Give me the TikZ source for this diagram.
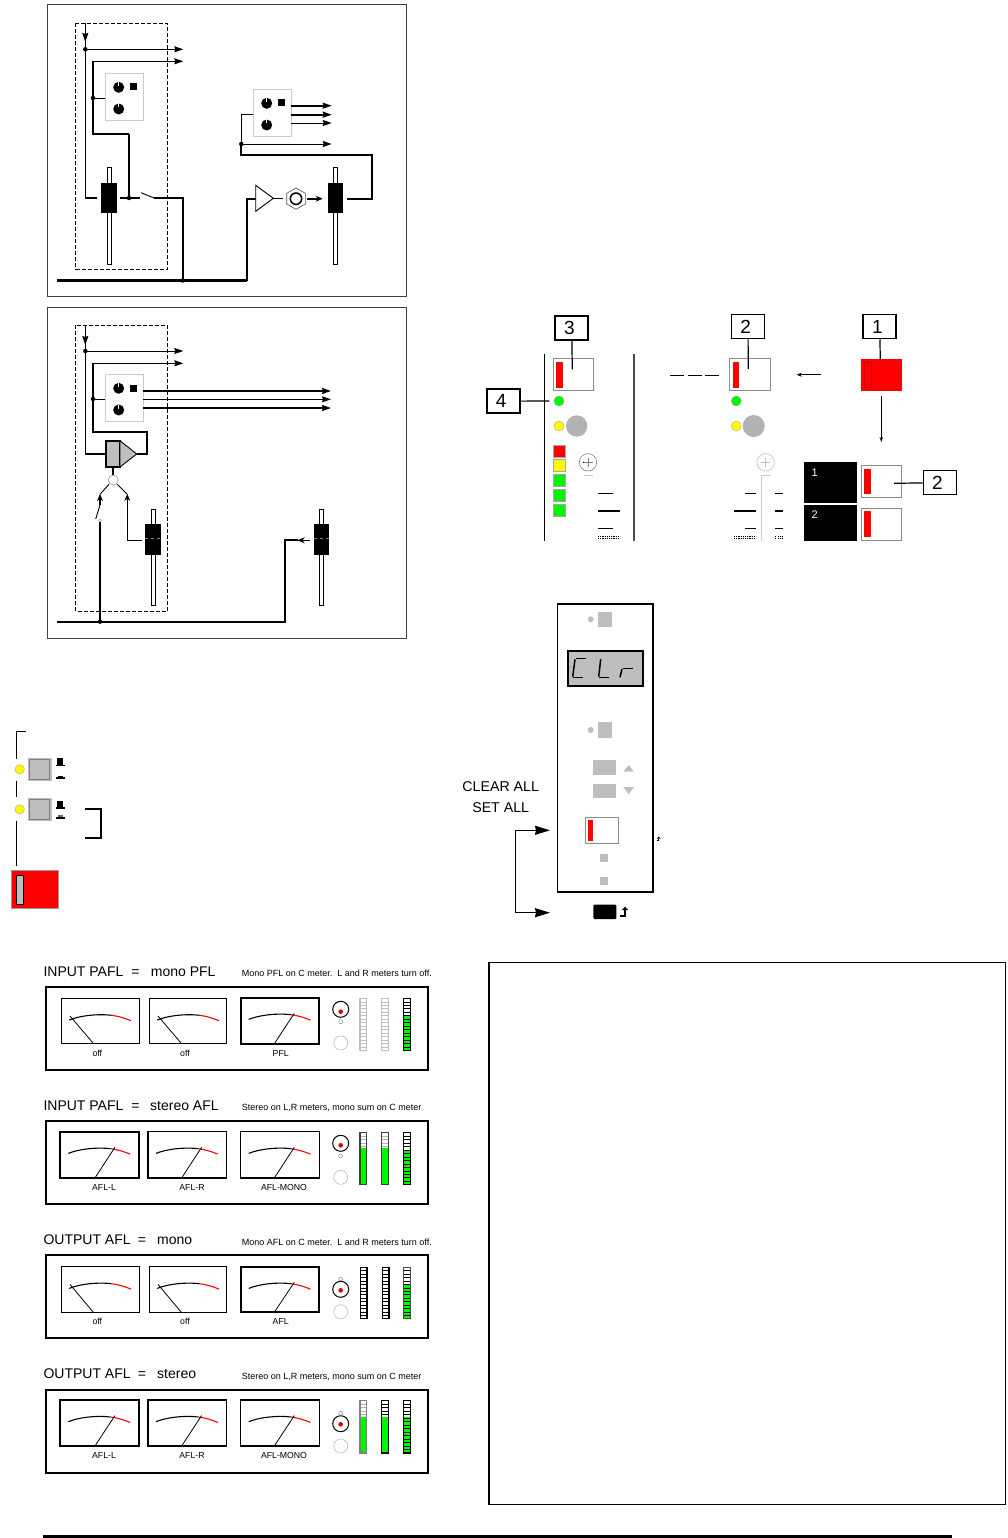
\documentclass[tikz,border=0pt]{standalone}
\usepackage{fontspec}
\setmainfont{Liberation Sans}
\usetikzlibrary{positioning}
\usetikzlibrary{calc}
\usetikzlibrary{arrows.meta}
\definecolor{ledred}{RGB}{255,0,0}
\definecolor{ledgreen}{RGB}{0,245,0}
\definecolor{ledyellow}{RGB}{255,250,0}
\definecolor{panelgray}{RGB}{190,190,190}
\tikzset{
    wire/.style={line width=0.9pt},
    hotwire/.style={line width=1.7pt},
    tip/.style={-{Stealth[length=9pt,width=6pt,inset=1pt]}},
    dot/.style={circle, fill=black, inner sep=0pt, minimum size=4.5pt},
    dashbox/.style={line width=0.8pt, dash pattern=on 4pt off 2pt},
    frame/.style={draw=black!75, line width=1pt},
    callout/.style={draw=black, line width=1.5pt, fill=white, font=\fontsize{19}{19}\selectfont, minimum width=33pt, minimum height=24pt, inner sep=0pt},
    capbtn/.style={draw=black!45, line width=0.8pt, fill=white},
    title/.style={anchor=base west, inner sep=0pt, font=\fontsize{14}{14}\selectfont},
    remark/.style={anchor=base west, inner sep=0pt, font=\fontsize{9}{9}\selectfont},
    scalelabel/.style={inner sep=0pt, font=\fontsize{8.7}{9}\selectfont},
}
% a pot panel at (#1,#2): two knobs and a square
\newcommand{\potpanel}[3]{
    \draw[draw=black!20, line width=0.8pt, fill=white] (#1,#2) rectangle ++(38,#3);
    \fill (#1+13.4,#2+14) circle (5.5);
    \fill (#1+13.4,#2+35.7) circle (5.5);
    \draw[white, line width=0.6pt] (#1+13.4,#2+8.5) -- ++(0,4);
    \draw[white, line width=0.6pt] (#1+13.4,#2+30.2) -- ++(0,4);
    \fill (#1+24.2,#2+10.2) rectangle ++(7,7);
}
% a fader, centre x, cap top, track top, track bottom
\newcommand{\fader}[4]{
    \draw[black, line width=0.7pt] (#1-2,#3) rectangle (#1+2,#4);
    \fill[black] (#1-7.7,#2) rectangle ++(15.4,30.7);
}
% one VU meter: x0, y0, x1, y1, line width, needle tip x, tip y, base x
\newcommand{\vumeter}[8]{
    \draw[line width=#5, fill=white] (#1,#2) rectangle (#3,#4);
    \draw[line width=1.1pt] (#1+8,#2+21.7) .. controls (#1+18,#2+17.5) and (#1+36,#2+15.2) .. (#1+50.4,#2+17);
    \draw[ledred, line width=1.1pt] (#1+50.4,#2+17) .. controls (#1+57,#2+17.8) and (#1+64,#2+20) .. (#1+69.7,#2+22.4);
    \draw[line width=0.8pt] (#1+#8,#4) -- (#1+#6,#2+#7);
}
% meter column: x, top, bottom, where the green starts, grid colour, solid yes/no, border colour
\newcommand{\ledbar}[7]{
    \fill[ledgreen] (#1,#4) rectangle (#1+6.8,#3);
    \foreach \nn in {1,...,14}
        \draw[#5, line width=0.6pt] (#1,{#2+\nn*(#3-#2)/15}) -- ++(6.8,0);
    \ifnum#6=1 \fill[ledgreen] (#1,#4) rectangle (#1+6.8,#3); \fi
    \draw[#7, line width=1.3pt] (#1,#2) rectangle (#1+6.8,#3);
}
% selector: the ring, its red dot, the small ring, the lower ring
\newcommand{\selector}[4]{
    \draw[line width=1pt, fill=white] (340.7,#1) circle (8);
    \fill[ledred!85!black] (340.7,#2) circle (2.3);
    \draw[black!45, line width=0.5pt] (340.7,#3) circle (2);
    \draw[black!30, line width=0.5pt] (340.7,#4) circle (7);
}
\begin{document}
\begin{tikzpicture}[x=1pt, y=-1pt, line cap=butt]
    \useasboundingbox (0,0) rectangle (1008,1538);
    % upper routing block
    \draw[frame] (47.5,5) rectangle (406,296);
    \draw[dashbox] (75.7,23.3) rectangle (167.3,269.3);
    \potpanel{105.3}{73.3}{47.4}
    \potpanel{253.3}{89.3}{47}
    \fader{109}{182.7}{167.3}{264}
    \fader{335.3}{182.7}{167.3}{264}
    \coordinate (jnA) at (85.3,49.3);
    \coordinate (jnB) at (93,98);
    \coordinate (jnC) at (129,198);
    \coordinate (jnD) at (182.7,280.5);
    \coordinate (swA) at (141,192.7);
    \coordinate (swB) at (154,198);
    \draw[line width=1.2pt] (85.3,23.3) -- (85.3,198);
    \draw[hotwire] (85.3,198) -- (97,198);
    \draw[tip, line width=0.9pt] (85.3,32) -- (85.3,42);
    \draw[wire, tip] (jnA) -- (183.3,49.3);
    \draw[wire, tip] (93,61.3) -- (183.3,61.3);
    \draw[hotwire] (93,61.3) -- (93,133.7) -- (129,133.7);
    \draw[line width=1.3pt] (129,133.7) -- (jnC);
    \draw[wire] (jnB) -- (105.3,98);
    \draw[hotwire] (120,198) -- (140,198);
    \draw[wire] (swA) -- (swB);
    \draw[hotwire] (swB) -- (182.7,198) -- (jnD);
    \draw[line width=2.4pt] (57.3,280.5) -- (247.3,280.5);
    \draw[hotwire] (247.3,281) -- (247.3,199) -- (256,199);
    \node[dot] at (jnA) {};
    \node[dot] at (jnB) {};
    \node[dot] at (jnC) {};
    \node[dot] at (jnD) {};
    \draw[line width=0.9pt, fill=white] (255.7,185.3) -- (255.7,211.3) -- (273.3,198.3) -- cycle;
    \draw[hotwire] (273.3,198.5) -- (283.3,198.5);
    \draw[black!70, line width=0.6pt] (296,188) -- (305.3,193.3) -- (305.3,204) -- (296,209.4) -- (286.7,204) -- (286.7,193.3) -- cycle;
    \draw[line width=1.5pt, fill=white] (296,198.7) circle (5.7);
    \draw[hotwire, -{Stealth[length=7pt,width=6pt]}] (307.3,198.7) -- (322.7,198.7);
    \draw[hotwire] (347.3,198.7) -- (372.3,198.7) -- (372.3,154.7) -- (241.3,154.7) -- (241.3,144);
    \draw[wire] (241.3,144) -- (241.3,114.3) -- (253.3,114.3);
    \draw[wire, tip] (241.3,144) -- (331.7,144);
    \node[dot] at (241.3,144) {};
    \draw[hotwire, tip] (291.3,105.7) -- (331.7,105.7);
    \draw[hotwire, tip] (291.3,114.7) -- (331.7,114.7);
    \draw[wire, tip] (291.3,123) -- (331.7,123);

    % lower routing block
    \draw[frame] (47.5,307.7) rectangle (406,638.3);
    \draw[dashbox] (75.7,325.3) rectangle (167.3,611.3);
    \potpanel{105.3}{374.3}{47.4}
    \fader{153}{524}{509}{605.3}
    \fader{321.7}{524}{509}{605.3}
    \draw[black!50, dashed, line width=0.4pt] (145.3,538.3) -- (160.7,538.3);
    \draw[black!50, dashed, line width=0.4pt] (314,538.3) -- (329.4,538.3);
    \coordinate (jnE) at (85.3,351);
    \coordinate (jnF) at (93,399);
    \coordinate (jnG) at (100,621.7);
    \draw[line width=1.2pt] (85.3,325.3) -- (85.3,454);
    \draw[hotwire] (85.3,454) -- (105.7,454);
    \draw[tip, line width=0.9pt] (85.3,335) -- (85.3,345);
    \draw[wire, tip] (jnE) -- (183.3,351);
    \draw[wire, tip] (93,363.3) -- (183.3,363.3);
    \draw[hotwire] (93,363.3) -- (93,432) -- (147,432) -- (147,454) -- (136.7,454);
    \draw[wire] (jnF) -- (105.3,399);
    \node[dot] at (jnE) {};
    \node[dot] at (jnF) {};
    \draw[hotwire, tip] (143.3,391) -- (331,391);
    \draw[wire, tip] (143.3,399.3) -- (331,399.3);
    \draw[hotwire, tip] (143.3,408) -- (331,408);
    \draw[line width=1.8pt, fill=panelgray] (105.7,440.7) rectangle (120,467);
    \draw[line width=0.9pt, fill=panelgray] (120,440.7) -- (120,467) -- (136.7,454) -- cycle;
    \node[circle, draw=black!45, line width=0.5pt, fill=white, minimum size=10pt, inner sep=0pt] (sumnode) at (113.3,480) {};
    \draw[hotwire] (113.3,467) -- (sumnode);
    \draw[wire] (109,484.3) -- (100,494.3);
    \draw[wire] (117.3,484.3) -- (127.3,494.3);
    \draw[hotwire, -{Stealth[length=7pt,width=6pt]}] (100,505) -- (100,494);
    \draw[wire] (100,505) -- (95.7,519);
    \node[circle, draw=black!45, line width=0.4pt, fill=white, minimum size=3pt, inner sep=0pt] (swC) at (100,520.7) {};
    \draw[wire, -{Stealth[length=7pt,width=6pt]}] (141.7,540.3) -- (127.3,540.3) -- (127.3,494);
    \draw[hotwire] (swC) -- (jnG);
    \draw[hotwire] (57.3,621.7) -- (285,621.7) -- (285,540.3) -- (298,540.3);
    \draw[wire] (298,540.3) -- (310,540.3);
    \draw[-{Stealth[length=7pt,width=6pt]}, line width=0.9pt] (310,540.3) -- (297.7,540.3);
    \node[dot] at (jnG) {};

    % console strips and callouts
    \draw[line width=1.5pt] (544.7,354) -- (544.7,540.7);
    \draw[black!70, line width=1.2pt] (634,354) -- (634,540.7);
    \draw[capbtn] (553,358.7) rectangle (593.7,390.7);
    \fill[ledred] (556.3,362) rectangle (562.7,387.7);
    \node[callout] (numC) at (571.7,328) {\kern-4.6pt 3};
    \node[callout] (numD) at (503.5,401.2) {\kern-4.6pt 4};
    \node[callout] (numB) at (748,326.5) {\kern-4.6pt 2};
    \node[callout] (numA) at (879.7,326.5) {\kern-4.6pt 1};
    \node[callout] (numE) at (939.8,482.7) {\kern-4.6pt 2};
    \coordinate (endC) at (572.3,369.3);
    \coordinate (endD) at (549.3,401);
    \coordinate (endB) at (748.3,369);
    \coordinate (endA) at (880.3,360);
    \coordinate (endE) at (894,483.3);
    \fill[ledgreen, draw=black!40, line width=0.3pt] (559,401) circle (5);
    \fill[ledyellow, draw=black!40, line width=0.3pt] (559,426) circle (5);
    \fill[black!30] (576.7,426) circle (10.7);
    \draw[capbtn] (729.7,358.7) rectangle (770.3,390.7);
    \fill[ledred] (733,362) rectangle (739,387.7);
    \fill[ledgreen, draw=black!40, line width=0.3pt] (736.3,401) circle (5);
    \fill[ledyellow, draw=black!40, line width=0.3pt] (736.3,426) circle (5);
    \fill[black!30] (753.7,426) circle (11);
    \draw[line width=1.2pt] (numC) -- (endC);
    \draw[line width=1.2pt] (numD) -- (endD);
    \draw[line width=1.2pt] (numB) -- (endB);
    \fill[ledred] (861,358.7) rectangle (901.7,390.7);
    \draw[ledred!80!black, line width=0.5pt] (864.3,362) rectangle (871,387.7);
    \draw[line width=1.2pt] (numA) -- (endA);
    \draw[line width=1.2pt, dash pattern=on 14pt off 3.5pt] (670,375.3) -- (719,375.3);
    \draw[line width=1.5pt, -{Stealth[length=5pt,width=4pt]}] (821,374.7) -- (796.7,374.7);
    \draw[line width=0.8pt, -{Stealth[length=5pt,width=3.5pt]}] (881.3,396) -- (881.3,442);
    % meter lamps
    \foreach \ya/\lampcol in {445/ledred, 459.3/ledyellow, 474/ledgreen, 489/ledgreen, 504/ledgreen}
        \draw[black!35, line width=0.6pt, fill=\lampcol] (553,\ya) rectangle ++(12,12);
    % screws and scale marks
    \foreach \xa/\screwcol in {588/black!50, 765.7/black!25} {
        \draw[\screwcol, line width=0.6pt, fill=white] (\xa,462.3) circle (8.7);
        \draw[\screwcol, line width=0.6pt] (\xa-4.5,462.3) -- (\xa+4.5,462.3);
        \draw[\screwcol, line width=0.6pt] (\xa,457.8) -- (\xa,466.8);
    }
    \fill (583.5,462.3) circle (0.7);
    \draw[black!20, line width=0.6pt] (584,475.3) -- (592.7,475.3);
    \draw[black!20, line width=0.6pt] (770,475.3) -- (761,475.3) -- (761,540.7);
    \foreach \ya/\xa/\xb in {493.7/598/612.7, 511/598/620, 528.7/598/612.7, 493.7/745/756, 511/734/756, 528.7/745/756, 493.7/775.3/783.3, 511/775.3/783.3, 528.7/775.3/783.3}
        \draw[line width=1.5pt] (\xa,\ya) -- (\xb,\ya);
    \foreach \xa/\xb in {598/620, 734/756, 775.3/783.3}
        \foreach \ya in {536, 538.7}
            \draw[line width=0.8pt, dash pattern=on 1.1pt off 1.1pt] (\xa,\ya) -- (\xb,\ya);
    % channel buttons
    \fill (804,462.3) rectangle (857,502.7);
    \fill (804,505) rectangle (857,540.7);
    \node[inner sep=0pt, text=white, font=\fontsize{11}{11}\selectfont] (chA) at (814.7,472.3) {1};
    \node[inner sep=0pt, text=white, font=\fontsize{11}{11}\selectfont] (chB) at (814.7,515) {2};
    \draw[capbtn] (861,465.3) rectangle (901.7,497.7);
    \draw[capbtn] (861,508) rectangle (901.7,540);
    \fill[ledred] (864.3,469) rectangle (870.7,494.3);
    \fill[ledred] (864.3,511.3) rectangle (870.7,537);
    \draw[line width=1.2pt] (numE) -- (endE);

    % solo keys at left
    \draw[line width=1.3pt] (25.7,731.7) -- (16.3,731.7) -- (16.3,758.7);
    \draw[line width=1.3pt] (16.3,780.7) -- (16.3,796.7);
    \draw[line width=1.3pt] (16.3,821) -- (16.3,865.7);
    \foreach \ya/\yb in {758/769.3, 798.3/809.3} {
        \draw[fill=ledyellow, draw=black!40, line width=0.3pt] (19.7,\yb) circle (4.7);
        \draw[black!25, line width=0.8pt, fill=panelgray] (28.3,\ya) rectangle ++(22.7,22.3);
        \draw[black!50, line width=0.5pt] (29.7,\ya+1.4) rectangle ++(20,19.5);
    }
    \foreach \ya in {758.3, 800.7} {
        \fill (57.3,\ya) rectangle ++(5.4,6.5);
        \fill (56,\ya+6.5) rectangle ++(9,1.5);
    }
    \fill (57.5,776) rectangle ++(5,1.3);
    \fill (56,777.3) rectangle ++(9,1.4);
    \fill[black!60] (57.5,815) rectangle ++(5,2.2);
    \fill (56,817.2) rectangle ++(9,1.5);
    \draw[line width=1.8pt] (85,809.3) -- (101,809.3) -- (101,838) -- (85,838);
    \draw[fill=ledred, draw=black!40, line width=0.5pt] (11.3,870.3) rectangle (58.7,908);
    \draw[black, line width=0.9pt, fill=panelgray] (16.3,875.3) rectangle (23.7,904.3);

    % display panel
    \draw[line width=1.5pt] (557.7,604) rectangle (653,892);
    \fill[panelgray] (590.7,619.3) circle (3);
    \fill[panelgray] (597.7,611.7) rectangle (612.3,627.3);
    \draw[line width=1.8pt, fill=panelgray] (567.7,650.7) rectangle (643.3,686);
    \draw[line width=1.5pt] (586,658.3) -- (576,658.3);
    \draw[line width=1.5pt] (575,659.3) -- (572.7,676.7);
    \draw[line width=1.5pt] (573.3,677.7) -- (583.3,677.7);
    \draw[line width=1.5pt] (600.7,659) -- (598.7,676.7);
    \draw[line width=1.5pt] (599.3,677.7) -- (609.3,677.7);
    \draw[line width=1.5pt] (622,669) -- (620,677.3);
    \draw[line width=1.5pt] (622.7,668.3) -- (633.3,668.3);
    \fill[panelgray] (590.7,730) circle (3);
    \fill[panelgray] (597.7,722.3) rectangle (612.3,737.7);
    \fill[panelgray] (593.3,760) rectangle (616.3,775);
    \fill[panelgray] (593.3,784) rectangle (616.3,798.3);
    \fill[panelgray] (623.3,771.7) -- (634,771.7) -- (628.7,765) -- cycle;
    \fill[panelgray] (623.3,787) -- (634,787) -- (628.7,794.3) -- cycle;
    \draw[capbtn] (585,817) rectangle (618.7,843.3);
    \fill[ledred] (588.3,820) rectangle (593,841);
    \fill[panelgray] (600.3,853.7) rectangle ++(8,8);
    \fill[panelgray] (600.3,877) rectangle ++(8,8);
    \draw[line width=0.6pt] (656.7,840.7) -- (658.7,840.7) -- (658.7,838.5);
    \fill (656.7,838.7) -- (660.7,838.7) -- (658.7,836.5) -- cycle;
    \fill[rounded corners=1pt] (593.3,904.7) rectangle (616.3,919);
    \draw[line width=1.2pt] (620,916) -- (625,916) -- (625,910);
    \fill (621.7,910.2) -- (628.3,910.2) -- (625,906.7) -- cycle;
    \node[inner sep=0pt, font=\fontsize{14.2}{15}\selectfont] (clrall) at (500.7,787) {CLEAR ALL};
    \node[inner sep=0pt, font=\fontsize{14.2}{15}\selectfont] (setall) at (500.7,808) {SET ALL};
    \coordinate (toclr) at (550,830.3);
    \coordinate (toset) at (550,912.7);
    \draw[line width=1.5pt, -{Stealth[length=15pt,width=9pt,inset=1pt]}] (515.7,830.3) -- (toclr);
    \draw[line width=1.5pt, -{Stealth[length=15pt,width=9pt,inset=1pt]}] (515.7,830.3) -- (515.7,912.7) -- (toset);

    % INPUT PAFL, mono PFL
    \node[title] (hdA) at (43.3,976) {INPUT PAFL};
    \node[title] (eqA) at (131.2,976) {=};
    \node[title] (vaA) at (150.7,976) {mono PFL};
    \node[remark] (rmA) at (241.7,976.7) {Mono PFL on C meter.\ \ L and R meters turn off.};
    \draw[line width=1.7pt] (45.7,987.3) rectangle (428.3,1070);
    \vumeter{61.3}{998.3}{139.3}{1043.3}{1pt}{8.7}{17.7}{32}
    \vumeter{149.3}{998.3}{226.7}{1043.3}{1pt}{8.7}{17.7}{32}
    \vumeter{240.7}{997.7}{319.3}{1043.7}{1.8pt}{53.6}{15.6}{33.6}
    \node[scalelabel] (lbA) at (97.3,1053.7) {off};
    \node[scalelabel] (lbB) at (185,1053.7) {off};
    \node[scalelabel] (lbC) at (280.7,1053.7) {PFL};
    \selector{1009.3}{1011.7}{1021.7}{1043}
    \ledbar{360}{998.3}{1050.7}{1050.7}{black!25}{0}{black!25}
    \ledbar{381.7}{998.3}{1050.7}{1050.7}{black!25}{0}{black!25}
    \ledbar{403.8}{998.3}{1050.7}{1015}{black}{0}{black}

    % INPUT PAFL, stereo AFL
    \node[title] (hdB) at (43.3,1110) {INPUT PAFL};
    \node[title] (eqB) at (131.2,1110) {=};
    \node[title] (vaB) at (150,1110) {stereo AFL};
    \node[remark] (rmB) at (241.7,1110.7) {Stereo on L,R meters, mono sum on C meter};
    \draw[line width=1.7pt] (45.7,1121.3) rectangle (428.3,1204.3);
    \vumeter{60.3}{1131.7}{139.3}{1178}{1.9pt}{54.6}{15.6}{34.6}
    \vumeter{148}{1131.7}{226.7}{1178}{1.5pt}{53.6}{15.6}{33.6}
    \vumeter{240.7}{1131.7}{319.3}{1178}{1.5pt}{53.6}{15.6}{33.6}
    \node[scalelabel] (lbD) at (104,1187.3) {AFL-L};
    \node[scalelabel] (lbE) at (192,1187.3) {AFL-R};
    \node[scalelabel] (lbF) at (284,1187.3) {AFL-MONO};
    \selector{1143.3}{1145.3}{1156}{1177.3}
    \ledbar{360}{1132.7}{1184.7}{1148.3}{black!30}{1}{black!75}
    \ledbar{381.7}{1132.7}{1184.7}{1148.3}{black!30}{1}{black!75}
    \ledbar{403.8}{1132.7}{1184.7}{1150}{black}{0}{black}

    % OUTPUT AFL, mono
    \node[title] (hdC) at (43.3,1244) {OUTPUT AFL};
    \node[title] (eqC) at (137.7,1244) {=};
    \node[title] (vaC) at (157,1244) {mono};
    \node[remark] (rmC) at (241.7,1245) {Mono AFL on C meter.\ \ L and R meters turn off.};
    \draw[line width=1.7pt] (45.7,1255.3) rectangle (428.3,1338.3);
    \vumeter{61.3}{1266.7}{139.3}{1312.3}{1pt}{8.7}{17.7}{32}
    \vumeter{149.3}{1266.7}{226.7}{1312.3}{1pt}{8.7}{17.7}{32}
    \vumeter{240.7}{1266.7}{319.3}{1312.3}{1.8pt}{53.6}{15.6}{33.6}
    \node[scalelabel] (lbG) at (97.3,1321.7) {off};
    \node[scalelabel] (lbH) at (185,1321.7) {off};
    \node[scalelabel] (lbI) at (280.7,1321.7) {AFL};
    \selector{1289.3}{1290.3}{1279}{1311.7}
    \ledbar{360.3}{1267.3}{1318.7}{1318.7}{black}{0}{black}
    \ledbar{382.3}{1267.3}{1318.7}{1318.7}{black}{0}{black}
    \ledbar{403.8}{1267.3}{1318.7}{1284}{black}{0}{black!70}

    % OUTPUT AFL, stereo
    \node[title] (hdD) at (43.3,1378.3) {OUTPUT AFL};
    \node[title] (eqD) at (137.7,1378.3) {=};
    \node[title] (vaD) at (157,1378.3) {stereo};
    \node[remark] (rmD) at (241.7,1379) {Stereo on L,R meters, mono sum on C meter};
    \draw[line width=1.7pt] (45.7,1389.7) rectangle (428.3,1473);
    \vumeter{60.3}{1400}{139.3}{1446}{1.9pt}{54.6}{15.6}{34.6}
    \vumeter{148}{1400}{226.7}{1446}{1.5pt}{53.6}{15.6}{33.6}
    \vumeter{240.7}{1400}{319.3}{1446}{1.5pt}{53.6}{15.6}{33.6}
    \node[scalelabel] (lbJ) at (104,1455.7) {AFL-L};
    \node[scalelabel] (lbK) at (192,1455.7) {AFL-R};
    \node[scalelabel] (lbL) at (284,1455.7) {AFL-MONO};
    \selector{1423.7}{1424.3}{1413.3}{1446}
    \ledbar{360}{1400.3}{1453}{1416.7}{black!30}{1}{black!50}
    \ledbar{381.7}{1400.3}{1453}{1416.7}{black}{1}{black}
    \ledbar{403.8}{1400.3}{1453}{1417}{black}{0}{black}

    % empty box and foot rule
    \draw[line width=1pt] (488.5,962.5) rectangle (1005,1504.5);
    \draw[line width=1.6pt] (488.7,962) -- (488.7,1505);
    \draw[line width=2.6pt] (43.3,1536.4) -- (952,1536.4);
\end{tikzpicture}
\end{document}
